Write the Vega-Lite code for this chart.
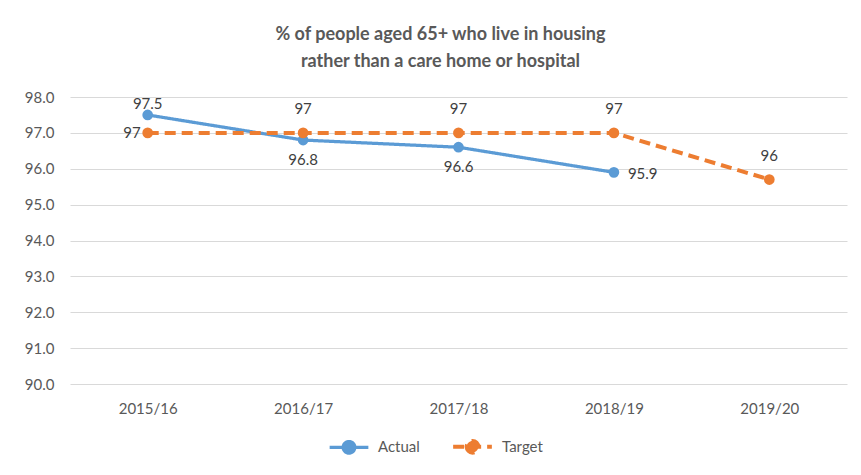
{
  "$schema": "https://vega.github.io/schema/vega-lite/v6.json",
  "width": 777,
  "height": 287,
  "autosize": {"type": "none"},
  "padding": {"left": 70, "top": 97, "right": 14, "bottom": 91},
  "background": "white",
  "config": {
    "font": "Lato",
    "view": {"stroke": null},
    "axis": {"labelFont": "Lato", "labelColor": "#595959", "labelFontSize": 15, "gridColor": "#D9D9D9", "gridWidth": 1, "domain": false, "ticks": false, "title": null}
  },
  "title": {
    "text": ["% of people aged 65+ who live in housing", "rather than a care home or hospital"],
    "font": "Lato",
    "fontSize": 18,
    "fontWeight": "bold",
    "color": "#595959",
    "lineHeight": 27,
    "offset": 19,
    "dx": -18,
    "anchor": "middle"
  },
  "data": {
    "values": [
      {"year": "2015/16", "series": "Actual", "value": 97.5, "label": "97.5"},
      {"year": "2016/17", "series": "Actual", "value": 96.8, "label": "96.8"},
      {"year": "2017/18", "series": "Actual", "value": 96.6, "label": "96.6"},
      {"year": "2018/19", "series": "Actual", "value": 95.9, "label": "95.9"},
      {"year": "2015/16", "series": "Target", "value": 97, "label": "97"},
      {"year": "2016/17", "series": "Target", "value": 97, "label": "97"},
      {"year": "2017/18", "series": "Target", "value": 97, "label": "97"},
      {"year": "2018/19", "series": "Target", "value": 97, "label": "97"},
      {"year": "2019/20", "series": "Target", "value": 95.7, "label": "96"}
    ]
  },
  "encoding": {
    "x": {
      "field": "year", "type": "ordinal",
      "sort": ["2015/16", "2016/17", "2017/18", "2018/19", "2019/20"],
      "scale": {"paddingInner": 0, "paddingOuter": 0.5},
      "axis": {"labelAngle": 0, "labelPadding": 17, "grid": false}
    },
    "y": {
      "field": "value", "type": "quantitative",
      "scale": {"domain": [90, 98], "nice": false, "zero": false},
      "axis": {"values": [90, 91, 92, 93, 94, 95, 96, 97, 98], "format": ".1f", "labelPadding": 16, "grid": true}
    }
  },
  "layer": [
    {
      "mark": {"type": "line"},
      "encoding": {
        "color": {
          "field": "series", "type": "nominal",
          "scale": {"domain": ["Actual", "Target"], "range": ["#5B9BD5", "#ED7D31"]},
          "legend": {
            "orient": "none", "legendX": 258, "legendY": 328, "direction": "horizontal",
            "title": null, "labelFont": "Lato", "labelFontSize": 15, "labelColor": "#595959",
            "symbolType": "M-1,0L1,0M-0.3,0A0.3,0.3 0 1,0 0.3,0A0.3,0.3 0 1,0 -0.3,0Z",
            "symbolSize": 1500, "symbolStrokeWidth": 3.5, "columnPadding": 25, "labelOffset": 8
          }
        },
        "strokeDash": {
          "field": "series", "type": "nominal",
          "scale": {"domain": ["Actual", "Target"], "range": [[1, 0], [11, 6]]},
          "legend": null
        },
        "strokeWidth": {
          "field": "series", "type": "nominal",
          "scale": {"domain": ["Actual", "Target"], "range": [3.25, 4]},
          "legend": null
        }
      }
    },
    {
      "mark": {"type": "point", "filled": true, "size": 115, "opacity": 1},
      "encoding": {
        "color": {"field": "series", "type": "nominal", "legend": null}
      }
    },
    {
      "transform": [{"filter": "datum.series == 'Actual' && datum.year == '2015/16'"}],
      "mark": {"type": "text", "fontSize": 15, "color": "#404040", "baseline": "middle", "dy": -11},
      "encoding": {"text": {"field": "label"}}
    },
    {
      "transform": [{"filter": "datum.series == 'Actual' && (datum.year == '2016/17' || datum.year == '2017/18')"}],
      "mark": {"type": "text", "fontSize": 15, "color": "#404040", "baseline": "middle", "dy": 20},
      "encoding": {"text": {"field": "label"}}
    },
    {
      "transform": [{"filter": "datum.series == 'Actual' && datum.year == '2018/19'"}],
      "mark": {"type": "text", "fontSize": 15, "color": "#404040", "baseline": "middle", "align": "left", "dx": 14, "dy": 2},
      "encoding": {"text": {"field": "label"}}
    },
    {
      "transform": [{"filter": "datum.series == 'Target' && datum.year == '2015/16'"}],
      "mark": {"type": "text", "fontSize": 15, "color": "#404040", "baseline": "middle", "align": "right", "dx": -7},
      "encoding": {"text": {"field": "label"}}
    },
    {
      "transform": [{"filter": "datum.series == 'Target' && datum.year != '2015/16'"}],
      "mark": {"type": "text", "fontSize": 15, "color": "#404040", "baseline": "middle", "dy": -24},
      "encoding": {"text": {"field": "label"}}
    }
  ]
}
